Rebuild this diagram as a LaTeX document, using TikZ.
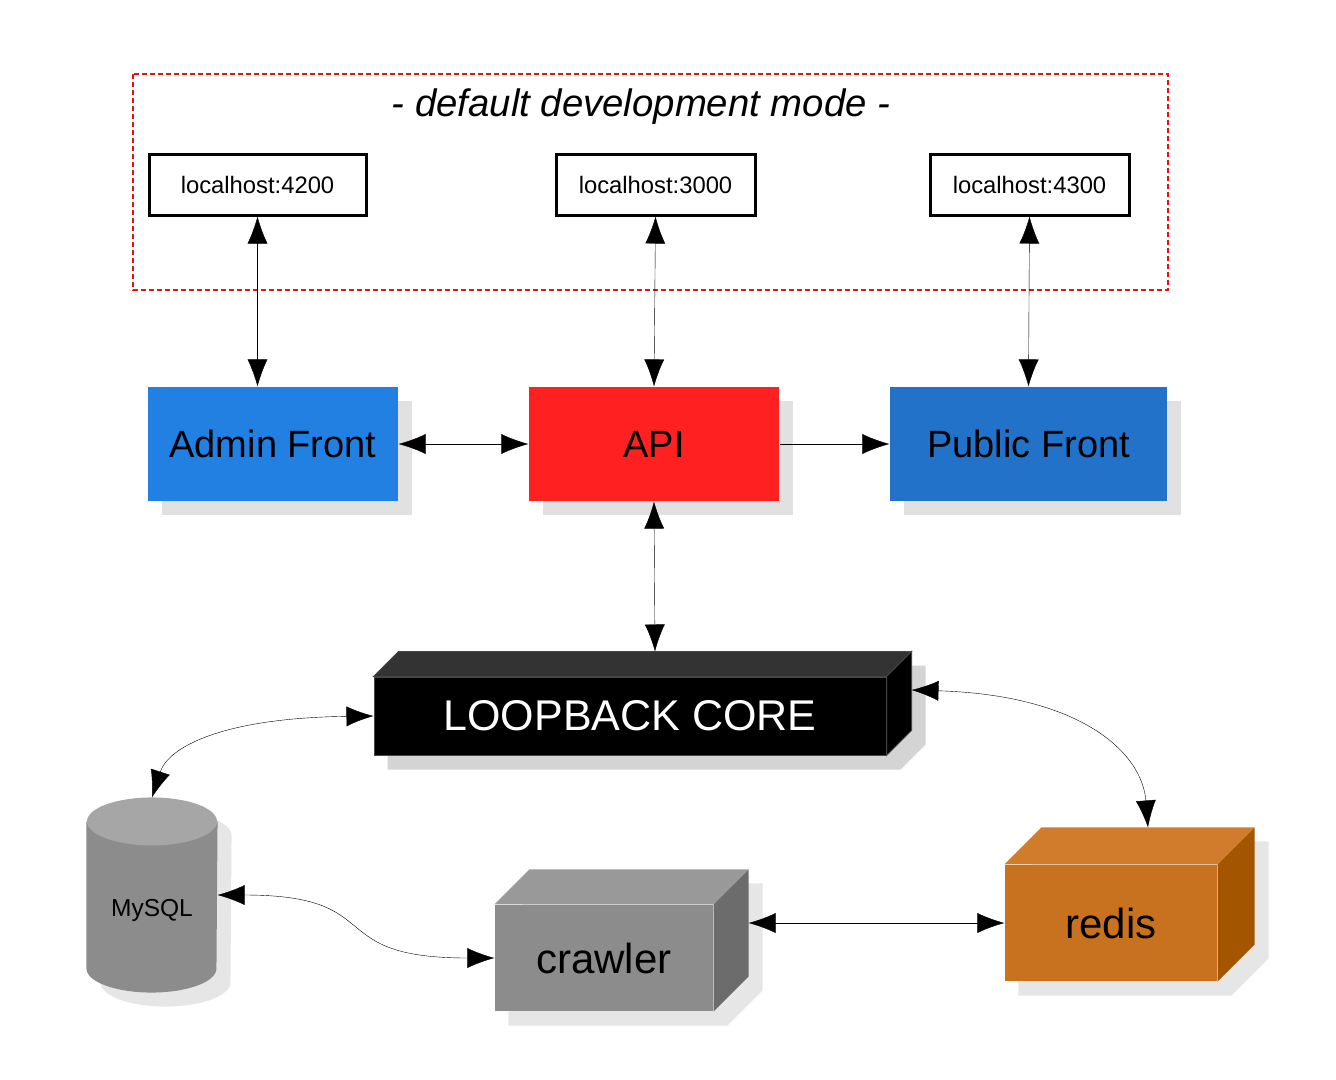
\documentclass[tikz,border=0pt]{standalone}
\usepackage{fontspec}
\setmainfont{Liberation Sans}
\usetikzlibrary{arrows.meta,calc,shadows,backgrounds}
\definecolor{devred}{RGB}{228,20,20}
\definecolor{adminblue}{RGB}{33,128,226}
\definecolor{pubblue}{RGB}{33,114,200}
\definecolor{apired}{RGB}{255,33,33}
\definecolor{shadowa}{RGB}{225,225,225}
\definecolor{shadowb}{RGB}{212,212,212}
\definecolor{shadowc}{RGB}{230,230,230}
\definecolor{lbtop}{RGB}{51,51,51}
\definecolor{lbedge}{RGB}{70,70,70}
\definecolor{crtop}{RGB}{153,153,153}
\definecolor{crfront}{RGB}{140,140,140}
\definecolor{crside}{RGB}{108,108,108}
\definecolor{rdtop}{RGB}{208,124,44}
\definecolor{rdfront}{RGB}{200,113,30}
\definecolor{rdside}{RGB}{163,85,0}
\definecolor{dbtop}{RGB}{166,166,166}
\definecolor{dbbody}{RGB}{140,140,140}
% top and side faces of a box: node, depth, top style, side style
\newcommand\cubefaces[4]{%
\fill[#3](#1.north west)--++(#2,-#2)--($(#1.north east)+(#2,-#2)$)--(#1.north east)--cycle;
\fill[#4](#1.north east)--++(#2,-#2)--($(#1.south east)+(#2,-#2)$)--(#1.south east)--cycle;}
% shadow of a box: node, depth, colour
\newcommand\cubeshadow[3]{%
\fill[#3]($(#1.north west)+(14,14)$)--++(#2,-#2)--($(#1.north east)+(#2+14,14-#2)$)
--($(#1.south east)+(#2+14,14-#2)$)--($(#1.south east)+(14,14)$)--($(#1.south west)+(14,14)$)--cycle;}

\begin{document}
\begin{tikzpicture}[x=1pt,y=-1pt,line width=1.1pt,>={Latex[length=27pt,width=20pt]}]
% node styles
\tikzstyle{host node}=[draw,line width=3pt,minimum height=61pt,inner sep=0,font=\fontsize{23.8}{26}\selectfont]
\tikzstyle{app node}=[minimum height=114pt,inner sep=0,font=\fontsize{38}{40}\selectfont,
drop shadow={shadow xshift=14pt,shadow yshift=-14pt,fill=shadowa,opacity=1}]
\tikzstyle{cube node}=[inner sep=0,font=\fontsize{42}{44}\selectfont]
\useasboundingbox(0,0)rectangle(1336,1079);
% development mode
\draw[devred,line width=2pt,dash pattern=on 5pt off 3pt](133,74)rectangle(1168,290);
\node(title)at(641,107)[font=\fontsize{38.3}{42}\selectfont\itshape]{- default development mode -};
\node(lh4200)[host node,minimum width=217pt]at(257.5,184.5){localhost:4200};
\node(lh3000)[host node,minimum width=199pt]at(655.5,184.5){localhost:3000};
\node(lh4300)[host node,minimum width=199pt]at(1029.5,184.5){localhost:4300};
% applications
\node(admin)[app node,fill=adminblue,minimum width=250pt]at(273,444){Admin Front};
\node(api)[app node,fill=apired,minimum width=250pt]at(654,444){API};
\node(public)[app node,fill=pubblue,minimum width=277pt]at(1028.5,444){Public Front};
% boxes
\node(loopback)[cube node,fill=black,draw=lbedge,line width=1pt,text=white,font=\fontsize{43}{45}\selectfont,
minimum width=512pt,minimum height=78pt]at(630,716){LOOPBACK CORE};
\cubefaces{loopback}{25}{lbtop,draw=lbedge,line width=1pt}{black,draw=lbedge,line width=1pt}
\node(crawler)[cube node,fill=crfront,minimum width=218pt,minimum height=106pt]at(604,958){crawler};
\cubefaces{crawler}{35}{crtop}{crside}
\node(redis)[cube node,fill=rdfront,minimum width=212pt,minimum height=116pt]at(1111,923){redis};
\cubefaces{redis}{37}{rdtop}{rdside}
\node(mysql)[inner sep=0,minimum width=130pt,minimum height=146pt,
font=\fontsize{24.5}{26}\selectfont]at(152,895){\raisebox{-21pt}[0pt][0pt]{MySQL}};
% shadows and cylinder
\begin{pgfonlayer}{background}
\cubeshadow{loopback}{25}{shadowb}
\cubeshadow{crawler}{35}{shadowc}
\cubeshadow{redis}{37}{shadowc}
\fill[shadowc]($(mysql.north west)+(14,14)$)--($(mysql.south west)+(14,14)$)
arc[start angle=180,end angle=360,x radius=65pt,y radius=24pt]--($(mysql.north east)+(14,14)$)
arc[start angle=0,end angle=180,x radius=65pt,y radius=24pt]--cycle;
\fill[dbbody](mysql.north west)--(mysql.south west)
arc[start angle=180,end angle=360,x radius=65pt,y radius=24pt]--(mysql.north east)--cycle;
\fill[dbtop](mysql.north)ellipse[x radius=65pt,y radius=24pt];
\end{pgfonlayer}
% connector ends
\coordinate(lbtopc)at($(loopback.north)+(25,-25)$);
\coordinate(lbside)at($(loopback.east)+(25,-26)$);
\coordinate(crside)at($(crawler.east)+(35,-35)$);
\coordinate(rdtopc)at($(redis.north)+(37,-37)$);
\coordinate(mysqltop)at($(mysql.north)+(0,-24)$);
% connectors
\draw[<->](lh4200.south)--(lh4200.south|-admin.north);
\draw[<->](lh3000.south)--(api.north);
\draw[<->](lh4300.south)--(public.north);
\draw[<->](admin.east)--(api.west);
\draw[->](api.east)--(public.west);
\draw[<->](api.south)--(lbtopc);
\draw[<->](loopback.west)..controls(220,718)and(168,748)..(mysqltop);
\draw[<->](lbside)..controls(1080,695)and(1142,752)..(rdtopc);
\draw[<->](mysql.east)..controls(390,895)and(320,958)..(crawler.west);
\draw[<->](crside)--(redis.west);
\end{tikzpicture}
\end{document}
